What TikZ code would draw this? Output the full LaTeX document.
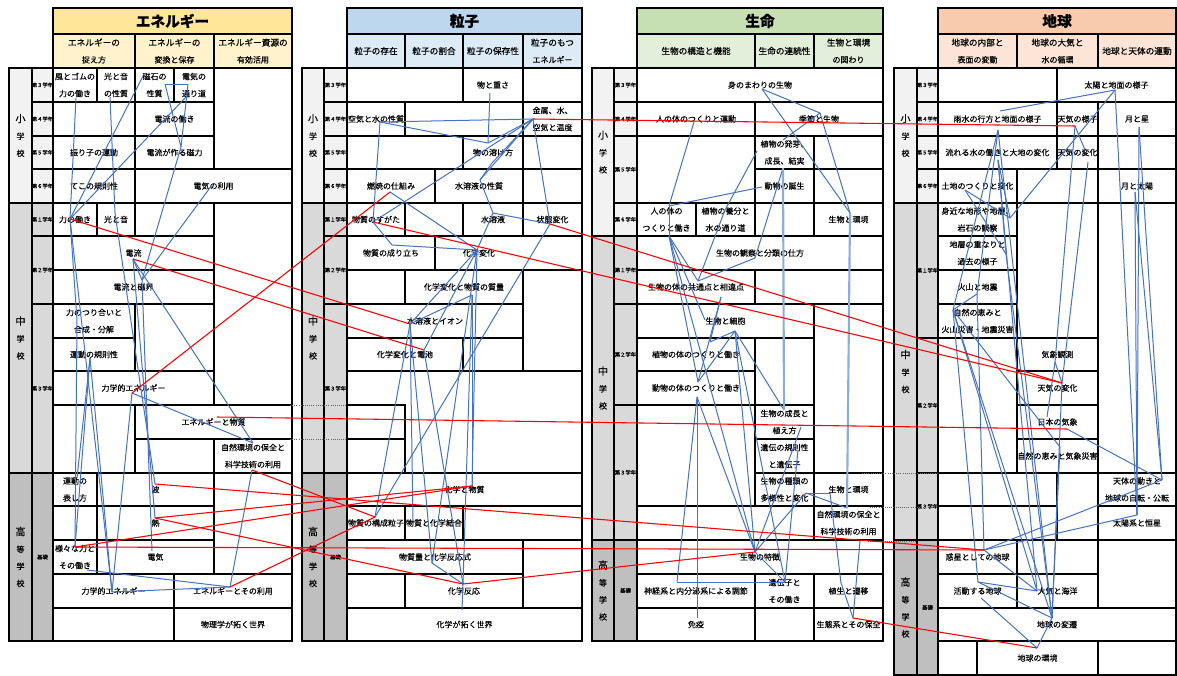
\documentclass[tikz,border=0pt]{standalone}
\usepackage{fontspec}
\setmainfont{Noto Sans CJK JP}[FakeBold=0.35]
\usetikzlibrary{calc}
\definecolor{linkblue}{HTML}{4472C4}
\definecolor{enTitle}{HTML}{FFE699}
\definecolor{enSub}{HTML}{FFF2CC}
\definecolor{ryTitle}{HTML}{BDD7EE}
\definecolor{rySub}{HTML}{DDEBF7}
\definecolor{seTitle}{HTML}{C6E0B4}
\definecolor{seSub}{HTML}{E2EFDA}
\definecolor{chTitle}{HTML}{F8CBAD}
\definecolor{chSub}{HTML}{FCE4D6}
\definecolor{elemgrey}{HTML}{F2F2F2}
\definecolor{midgrey}{HTML}{D9D9D9}
\definecolor{highgrey}{HTML}{BFBFBF}
\tikzset{
  gridline/.style={draw=black, line width=0.9pt},
  celltext/.style={font=\fontsize{6}{12.75}\selectfont, align=center, inner sep=0pt},
  bl/.style={draw=linkblue, line width=0.75pt},
  blw/.style={draw=linkblue!60, line width=1.6pt},
  rd/.style={draw=red, line width=0.8pt},
  dotline/.style={draw=black!60, densely dotted, line width=0.6pt},
}
\newcommand{\tcell}[7][]{%
  \draw[gridline,#1] (#2,#3) rectangle (#4,#5);
  \node[celltext] (#6) at ({(#2+#4)/2},{(#3+#5)/2}) {#7};}
\newcommand{\ecell}[4]{\draw[gridline] (#1,#2) rectangle (#3,#4);}
\newcommand{\ttlfont}{\fontsize{11}{12}\selectfont\bfseries}
\newcommand{\subfont}{\fontsize{6.5}{12.75}\selectfont}
\newcommand{\schfont}{\fontsize{7.5}{12.75}\selectfont}
\newcommand{\grdfont}{\fontsize{4}{5}\selectfont}

\begin{document}
\begin{tikzpicture}[x=0.75pt,y=-0.75pt]
\useasboundingbox (0,0) rectangle (1177,675);

% ---- エネルギー
\tcell[fill=enTitle]{53}{8}{292}{34}{enT}{\ttlfont エネルギー}
\tcell[fill=enSub]{53}{34}{135}{68}{enS1}{\subfont エネルギーの\\捉え方}
\tcell[fill=enSub]{135}{34}{214}{68}{enS2}{\subfont エネルギーの\\変換と保存}
\tcell[fill=enSub]{214}{34}{292}{68}{enS3}{\subfont エネルギー資源の\\有効活用}
\tcell[fill=elemgrey]{9}{68}{32}{203}{enE}{\schfont 小\\学\\校}
\tcell[fill=midgrey]{9}{203}{32}{473}{enM}{\schfont 中\\学\\校}
\tcell[fill=highgrey]{9}{473}{32}{641}{enH}{\schfont 高\\等\\学\\校}
\foreach \ya/\yb/\g [count=\i] in {68/102/３,102/136/４,136/169/５,169/203/６}
  {\tcell[fill=elemgrey]{32}{\ya}{53}{\yb}{enGe\i}{\grdfont 第\g 学年}}
\foreach \ya/\yb/\g [count=\i] in {203/236/１,236/304/２,304/473/３}
  {\tcell[fill=midgrey]{32}{\ya}{53}{\yb}{enGm\i}{\grdfont 第\g 学年}}
\tcell[fill=highgrey]{32}{473}{53}{641}{enGh}{\grdfont 基礎}

\tcell{53}{68}{97}{102}{kaze}{風とゴムの\\力の働き}
\tcell{97}{68}{135}{102}{oto}{光と音\\の性質}
\tcell{135}{68}{174}{102}{jishaku}{磁石の\\性質}
\tcell{174}{68}{214}{102}{michi}{電気の\\通り道}
\ecell{214}{68}{292}{169}
\ecell{53}{102}{135}{136}
\tcell{135}{102}{214}{136}{denryu}{電流の働き}
\tcell{53}{136}{135}{169}{furiko}{振り子の運動}
\tcell{135}{136}{214}{169}{jiryoku}{電流が作る磁力}
\tcell{53}{169}{135}{203}{teko}{てこの規則性}
\tcell{135}{169}{292}{203}{riyo}{電気の利用}
\tcell{53}{203}{97}{236}{chikara}{力の働き}
\tcell{97}{203}{135}{236}{oto2}{光と音}
\ecell{135}{203}{214}{236}
\ecell{214}{203}{292}{405}
\tcell{53}{236}{214}{270}{denryu2}{電流}
\tcell{53}{270}{214}{304}{jikai}{電流と磁界}
\tcell{53}{304}{135}{338}{tsuri}{力のつり合いと\\合成・分解}
\ecell{135}{304}{214}{371}
\tcell{53}{338}{135}{371}{undo}{運動の規則性}
\tcell{53}{371}{214}{405}{rikigaku}{力学的エネルギー}
\ecell{53}{405}{135}{473}
\tcell{135}{405}{292}{439}{ebusshitsu}{エネルギーと物質}
\ecell{135}{439}{214}{473}
\tcell{214}{439}{292}{473}{hozen}{自然環境の保全と\\科学技術の利用}
\tcell{53}{473}{97}{506}{hyoji}{運動の\\表し方}
\tcell{97}{473}{214}{506}{nami}{波}
\ecell{214}{473}{292}{574}
\ecell{53}{506}{97}{540}
\tcell{97}{506}{214}{540}{netsu}{熱}
\tcell{53}{540}{97}{574}{samazama}{様々な力と\\その働き}
\tcell{97}{540}{214}{574}{denki}{電気}
\tcell{53}{574}{174}{608}{rikigaku2}{力学的エネルギー}
\tcell{174}{574}{292}{608}{eriyo}{エネルギーとその利用}
\ecell{53}{608}{174}{641}
\tcell{174}{608}{292}{641}{butsuri}{物理学が拓く世界}

% ---- 粒子
\tcell[fill=ryTitle]{347}{8}{582}{34}{ryT}{\ttlfont 粒子}
\tcell[fill=rySub]{347}{34}{405}{68}{ryS1}{\subfont 粒子の存在}
\tcell[fill=rySub]{405}{34}{463}{68}{ryS2}{\subfont 粒子の割合}
\tcell[fill=rySub]{463}{34}{523}{68}{ryS3}{\subfont 粒子の保存性}
\tcell[fill=rySub]{523}{34}{582}{68}{ryS4}{\subfont 粒子のもつ\\エネルギー}
\tcell[fill=elemgrey]{302}{68}{324}{203}{ryE}{\schfont 小\\学\\校}
\tcell[fill=midgrey]{302}{203}{324}{473}{ryM}{\schfont 中\\学\\校}
\tcell[fill=highgrey]{302}{473}{324}{641}{ryH}{\schfont 高\\等\\学\\校}
\foreach \ya/\yb/\g [count=\i] in {68/102/３,102/136/４,136/169/５,169/203/６}
  {\tcell[fill=elemgrey]{324}{\ya}{347}{\yb}{ryGe\i}{\grdfont 第\g 学年}}
\foreach \ya/\yb/\g [count=\i] in {203/236/１,236/304/２,304/473/３}
  {\tcell[fill=midgrey]{324}{\ya}{347}{\yb}{ryGm\i}{\grdfont 第\g 学年}}
\tcell[fill=highgrey]{324}{473}{347}{641}{ryGh}{\grdfont 基礎}

\ecell{347}{68}{463}{102}
\tcell{463}{68}{523}{102}{omosa}{物と重さ}
\ecell{523}{68}{582}{102}
\tcell{347}{102}{405}{136}{kuki}{空気と水の性質}
\ecell{405}{102}{523}{136}
\tcell{523}{102}{582}{136}{kinzoku}{金属、水、\\空気と温度}
\ecell{347}{136}{463}{169}
\tcell{463}{136}{523}{169}{toke}{物の溶け方}
\ecell{523}{136}{582}{169}
\tcell{347}{169}{435}{203}{nensho}{燃焼の仕組み}
\tcell{435}{169}{523}{203}{seishitsu}{水溶液の性質}
\ecell{523}{169}{582}{203}
\tcell{347}{203}{405}{236}{sugata}{物質のすがた}
\ecell{405}{203}{463}{236}
\tcell{463}{203}{523}{236}{suiyoeki}{水溶液}
\tcell{523}{203}{582}{236}{jotai}{状態変化}
\tcell{347}{236}{435}{270}{naritachi}{物質の成り立ち}
\ecell{435}{236}{582}{270}
\node[celltext] (henka) at (479,253) {化学変化};
\ecell{347}{270}{405}{304}
\tcell{405}{270}{523}{304}{shitsuryo}{化学変化と物質の質量}
\ecell{523}{270}{582}{371}
\tcell{347}{304}{523}{338}{ion}{水溶液とイオン}
\tcell{347}{338}{463}{371}{denchi}{化学変化と電池}
\ecell{463}{338}{523}{371}
\ecell{347}{371}{582}{473}
\ecell{347}{405}{405}{439}
\ecell{347}{439}{405}{473}
\tcell{347}{473}{582}{506}{kbusshitsu}{化学と物質}
\tcell{347}{506}{405}{540}{kosei}{物質の構成粒子}
\tcell{405}{506}{463}{540}{ketsugo}{物質と化学結合}
\ecell{463}{506}{582}{540}
\tcell{347}{540}{523}{574}{ryo}{物質量と化学反応式}
\ecell{523}{540}{582}{608}
\ecell{347}{574}{405}{608}
\tcell{405}{574}{523}{608}{hanno}{化学反応}
\tcell{347}{608}{582}{641}{hiraku}{化学が拓く世界}

% ---- 生命
\tcell[fill=seTitle]{637}{8}{883}{34}{seT}{\ttlfont 生命}
\tcell[fill=seSub]{637}{34}{755}{68}{seS1}{\subfont 生物の構造と機能}
\tcell[fill=seSub]{755}{34}{814}{68}{seS2}{\subfont 生命の連続性}
\tcell[fill=seSub]{814}{34}{883}{68}{seS3}{\subfont 生物と環境\\の関わり}
\tcell[fill=elemgrey]{592}{68}{614}{236}{seE}{\schfont 小\\学\\校}
\tcell[fill=midgrey]{592}{236}{614}{540}{seM}{\schfont 中\\学\\校}
\tcell[fill=highgrey]{592}{540}{614}{641}{seH}{\schfont 高\\等\\学\\校}
\foreach \ya/\yb/\g [count=\i] in {68/102/３,102/136/４,136/203/５,203/236/６}
  {\tcell[fill=elemgrey]{614}{\ya}{637}{\yb}{seGe\i}{\grdfont 第\g 学年}}
\foreach \ya/\yb/\g [count=\i] in {236/304/１,304/405/２,405/540/３}
  {\tcell[fill=midgrey]{614}{\ya}{637}{\yb}{seGm\i}{\grdfont 第\g 学年}}
\tcell[fill=highgrey]{614}{540}{637}{641}{seGh}{\grdfont 基礎}

\tcell{637}{68}{883}{102}{mimawari}{身のまわりの生物}
\tcell{637}{102}{755}{136}{hitoundo}{人の体のつくりと運動}
\tcell{755}{102}{883}{136}{kisetsu}{季節と生物}
\ecell{637}{136}{755}{203}
\tcell{755}{136}{814}{169}{hatsuga}{植物の発芽、\\成長、結実}
\ecell{814}{136}{883}{169}
\tcell{755}{169}{814}{203}{tanjo}{動物の誕生}
\ecell{814}{169}{883}{203}
\tcell{637}{203}{696}{236}{hito}{人の体の\\つくりと働き}
\tcell{696}{203}{755}{236}{yobun}{植物の養分と\\水の通り道}
\ecell{755}{203}{814}{236}
\tcell{814}{203}{883}{236}{kankyo}{生物と環境}
\tcell{637}{236}{883}{270}{bunrui}{生物の観察と分類の仕方}
\tcell{637}{270}{755}{304}{kyotsu}{生物の体の共通点と相違点}
\ecell{755}{270}{883}{304}
\tcell{637}{304}{814}{338}{saibo}{生物と細胞}
\ecell{814}{304}{883}{473}
\tcell{637}{338}{755}{371}{shokubutsu}{植物の体のつくりと働き}
\ecell{755}{338}{814}{405}
\tcell{637}{371}{755}{405}{dobutsu}{動物の体のつくりと働き}
\ecell{637}{405}{755}{506}
\tcell{755}{405}{814}{439}{seicho}{生物の成長と\\植え方}
\tcell{755}{439}{814}{473}{iden}{遺伝の規則性\\と遺伝子}
\tcell{755}{473}{814}{506}{tayo}{生物の種類の\\多様性と変化}
\tcell{814}{473}{883}{506}{kankyo2}{生物と環境}
\ecell{637}{506}{814}{540}
\tcell{814}{506}{883}{540}{hozen2}{自然環境の保全と\\科学技術の利用}
\tcell{637}{540}{883}{574}{tokucho}{生物の特徴}
\tcell{637}{574}{755}{608}{shinkei}{神経系と内分泌系による調節}
\tcell{755}{574}{814}{608}{idenshi}{遺伝子と\\その働き}
\tcell{814}{574}{883}{608}{shokusei}{植生と遷移}
\tcell{637}{608}{755}{641}{meneki}{免疫}
\ecell{755}{608}{814}{641}
\tcell{814}{608}{883}{641}{seitai}{生態系とその保全}

% ---- 地球
\tcell[fill=chTitle]{938}{8}{1176}{34}{chT}{\ttlfont 地球}
\tcell[fill=chSub]{938}{34}{1017}{68}{chS1}{\subfont 地球の内部と\\表面の変動}
\tcell[fill=chSub]{1017}{34}{1098}{68}{chS2}{\subfont 地球の大気と\\水の循環}
\tcell[fill=chSub]{1098}{34}{1176}{68}{chS3}{\subfont 地球と天体の運動}
\tcell[fill=elemgrey]{894}{68}{917}{203}{chE}{\schfont 小\\学\\校}
\tcell[fill=midgrey]{894}{203}{917}{540}{chM}{\schfont 中\\学\\校}
\tcell[fill=highgrey]{894}{540}{917}{675}{chH}{\schfont 高\\等\\学\\校}
\foreach \ya/\yb/\g [count=\i] in {68/102/３,102/136/４,136/169/５,169/203/６}
  {\tcell[fill=elemgrey]{917}{\ya}{938}{\yb}{chGe\i}{\grdfont 第\g 学年}}
\foreach \ya/\yb/\g [count=\i] in {203/338/１,338/473/２,473/540/３}
  {\tcell[fill=midgrey]{917}{\ya}{938}{\yb}{chGm\i}{\grdfont 第\g 学年}}
\tcell[fill=highgrey]{917}{540}{938}{675}{chGh}{\grdfont 基礎}

\ecell{938}{68}{1057}{102}
\tcell{1057}{68}{1176}{102}{taiyo}{太陽と地面の様子}
\tcell{938}{102}{1057}{136}{amamizu}{雨水の行方と地面の様子}
\tcell{1057}{102}{1098}{136}{tenkiyo}{天気の様子}
\tcell{1098}{102}{1176}{136}{tsukihoshi}{月と星}
\tcell{938}{136}{1057}{169}{nagare}{流れる水の働きと大地の変化}
\tcell{1057}{136}{1098}{169}{tenkihen}{天気の変化}
\ecell{1098}{136}{1176}{169}
\tcell{938}{169}{1017}{203}{tochi}{土地のつくりと変化}
\ecell{1017}{169}{1098}{203}
\tcell{1098}{169}{1176}{203}{tsukitaiyo}{月と太陽}
\tcell{938}{203}{1017}{236}{mijika}{身近な地形や地層、\\岩石の観察}
\tcell{938}{236}{1017}{270}{chiso}{地層の重なりと\\過去の様子}
\tcell{938}{270}{1017}{304}{kazan}{火山と地震}
\tcell{938}{304}{1017}{338}{megumi}{自然の恵みと\\火山災害・地震災害}
\ecell{1017}{203}{1098}{338}
\ecell{1098}{203}{1176}{473}
\ecell{938}{338}{1017}{473}
\tcell{1017}{338}{1098}{371}{kisho}{気象観測}
\tcell{1017}{371}{1098}{405}{tenki2}{天気の変化}
\tcell{1017}{405}{1098}{439}{nihon}{日本の気象}
\tcell{1017}{439}{1098}{473}{megumi2}{自然の恵みと気象災害}
\ecell{938}{473}{1057}{506}
\ecell{938}{506}{1057}{540}
\ecell{1057}{473}{1098}{540}
\tcell{1098}{473}{1176}{506}{tentai}{天体の動きと\\地球の自転・公転}
\tcell{1098}{506}{1176}{540}{taiyokei}{太陽系と恒星}
\tcell{938}{540}{1017}{574}{wakusei}{惑星としての地球}
\ecell{1017}{540}{1098}{574}
\ecell{1098}{540}{1176}{608}
\tcell{938}{574}{1017}{608}{katsudo}{活動する地球}
\tcell{1017}{574}{1098}{608}{taiki}{大気と海洋}
\tcell{938}{608}{1176}{641}{hensen}{地球の変遷}
\ecell{938}{641}{977}{675}
\tcell{977}{641}{1098}{675}{kankyo4}{地球の環境}
\ecell{1098}{641}{1176}{675}

% dotted joins between the tables
\draw[dotline] (290,405) -- (347,405);
\draw[dotline] (290,439) -- (347,439);
\draw[dotline] (862,473) -- (938,473);
\draw[dotline] (870,507) -- (938,507);
\draw[dotline] (868,541) -- (917,541);

% link points
\coordinate (cKaze) at (76,98);
\coordinate (cOto) at (110,97);
\coordinate (cJishaku) at (143,76);
\coordinate (cJishakuR) at (165,84);
\coordinate (cMichi) at (188,84);
\coordinate (cMichiB) at (186,97);
\coordinate (cJiryoku) at (181,147);
\coordinate (cRiyo) at (212,185);
\coordinate (cChikara) at (70,219);
\coordinate (cOto2) at (115,213);
\coordinate (cDenryu2) at (133,259);
\coordinate (cJikai) at (142,280);
\coordinate (cTsuri) at (77,320);
\coordinate (cUndo) at (90,358);
\coordinate (cRikigaku) at (132,393);
\coordinate (cEbusshitsu) at (217,417);
\coordinate (cHozen) at (253,443);
\coordinate (cKagaku) at (252,470);
\coordinate (cHyoji) at (77,478);
\coordinate (cNami) at (155,484);
\coordinate (cNetsu) at (155,518);
\coordinate (cSamazama) at (75,547);
\coordinate (cSono) at (87,570);
\coordinate (cDenki) at (152,551);
\coordinate (cRikigaku2) at (112,592);
\coordinate (cEriyo) at (230,587);

\coordinate (cOmosa) at (490,93);
\coordinate (cTokeP) at (488,143);
\coordinate (cKuki) at (380,122);
\coordinate (cKinzoku) at (533,119);
\coordinate (cToke) at (492,163);
\coordinate (cSeishitsu) at (480,180);
\coordinate (cNensho) at (390,192);
\coordinate (cSugata) at (373,222);
\coordinate (cSuiyoeki) at (493,213);
\coordinate (cJotai) at (550,224);
\coordinate (cNaritachi) at (392,245);
\coordinate (cHenka) at (477,250);
\coordinate (cShitsuryo) at (472,295);
\coordinate (cIon) at (410,324);
\coordinate (cDenchi) at (424,350);
\coordinate (cKbusshitsu) at (472,486);
\coordinate (cKosei) at (375,517);
\coordinate (cKetsugo) at (413,520);
\coordinate (cRyo) at (432,563);
\coordinate (cHanno) at (463,584);
\coordinate (cHiraku) at (462,610);

\coordinate (cMimawari) at (762,89);
\coordinate (cKisetsu) at (820,113);
\coordinate (cHitoundo) at (694,122);
\coordinate (cHatsuga) at (783,140);
\coordinate (cHatsugaL) at (757,151);
\coordinate (cSeicho) at (783,168);
\coordinate (cTanjo) at (762,187);
\coordinate (cHito) at (669,206);
\coordinate (cHitoB) at (669,236);
\coordinate (cYobun) at (725,210);
\coordinate (cKankyo) at (850,213);
\coordinate (cBunrui) at (755,258);
\coordinate (cBunruiL) at (698,281);
\coordinate (cKyotsu) at (721,297);
\coordinate (cSaiboL) at (705,320);
\coordinate (cSaibo) at (735,331);
\coordinate (cShokubutsu) at (710,342);
\coordinate (cDobutsuL) at (698,382);
\coordinate (cDobutsu) at (697,397);
\coordinate (cSeicho2) at (784,410);
\coordinate (cUe) at (801,427);
\coordinate (cIden) at (798,450);
\coordinate (cTayo) at (806,493);
\coordinate (cKankyo2) at (830,493);
\coordinate (cHozen2) at (847,508);
\coordinate (cKagaku3) at (860,541);
\coordinate (cTokucho) at (755,552);
\coordinate (cShinkei) at (677,582);
\coordinate (cIdenshi) at (785,582);
\coordinate (cShokusei) at (841,583);
\coordinate (cSeitai) at (853,618);
\coordinate (cMeneki) at (697,618);

\coordinate (cTaiyo) at (1115,90);
\coordinate (cAmamizu) at (1000,111);
\coordinate (cAmamizuL) at (998,130);
\coordinate (cTenkiyo) at (1075,126);
\coordinate (cTenkihen) at (1085,150);
\coordinate (cTenkihenB) at (1088,162);
\coordinate (cNagare) at (998,160);
\coordinate (cTochi) at (965,190);
\coordinate (cTsukihoshi) at (1139,127);
\coordinate (cTsukitaiyo) at (1135,192);
\coordinate (cMijika) at (1010,218);
\coordinate (cChiso) at (1006,254);
\coordinate (cKazan) at (977,294);
\coordinate (cMegumi) at (953,310);
\coordinate (cKisho) at (1055,362);
\coordinate (cTenki2) at (1062,383);
\coordinate (cNihonB) at (1047,417);
\coordinate (cNihon) at (1067,429);
\coordinate (cMegumi2) at (1060,447);
\coordinate (cTentai) at (1162,480);
\coordinate (cTaiyokei) at (1137,515);
\coordinate (cWakusei) at (984,550);
\coordinate (cKatsudo) at (978,582);
\coordinate (cKatsudoB) at (981,598);
\coordinate (cTaiki) at (1037,591);
\coordinate (cHensen) at (1052,618);
\coordinate (cKankyo4) at (1037,648);

% blue links inside each field
\foreach \a/\b in {cChikara/cKaze, cChikara/cJishaku, cChikara/cMichiB, cOto/cOto2,
  cJishakuR/cMichi, cJishakuR/cJiryoku, cMichi/cJiryoku, cJiryoku/cJikai,
  cRiyo/cJikai, cDenryu2/cJikai, cDenryu2/cHozen, cJikai/cDenki, cDenryu2/cNetsu,
  cOto2/cNami, cChikara/cTsuri, cTsuri/cSamazama, cUndo/cHyoji, cUndo/cSamazama,
  cUndo/cRikigaku2, cChikara/cRikigaku2, cRikigaku/cRikigaku2, cRikigaku/cHozen,
  cKagaku/cEriyo, cRikigaku2/cEriyo, cSono/cEriyo}
  \draw[bl] (\a) -- (\b);
\foreach \a/\b in {cOmosa/cTokeP, cKuki/cTokeP, cKuki/cKinzoku, cTokeP/cKinzoku,
  cKinzoku/cToke, cKinzoku/cSeishitsu, cKinzoku/cJotai, cKinzoku/cSugata,
  cKuki/cSugata, cToke/cSeishitsu, cNensho/cHenka, cSeishitsu/cSuiyoeki,
  cSuiyoeki/cJotai, cSugata/cNaritachi, cNaritachi/cHenka, cHenka/cIon,
  cHenka/cDenchi, cShitsuryo/cIon, cSuiyoeki/cHenka, cJotai/cKosei, cIon/cKosei,
  cIon/cKetsugo, cIon/cRyo, cDenchi/cHanno, cShitsuryo/cKbusshitsu,
  cHenka/cKbusshitsu, cShitsuryo/cHanno, cHenka/cRyo, cRyo/cHanno, cHanno/cHiraku}
  \draw[bl] (\a) -- (\b);
\foreach \a/\b in {cMimawari/cKisetsu, cMimawari/cKankyo, cKisetsu/cHatsuga,
  cKisetsu/cKankyo, cHitoundo/cHito, cTanjo/cHito, cHito/cHitoB, cHatsugaL/cYobun,
  cSeicho/cBunrui, cHitoB/cBunruiL, cBunruiL/cBunrui, cHitoB/cSaiboL,
  cHitoB/cDobutsuL, cHitoB/cTokucho, cYobun/cBunruiL, cKyotsu/cShokubutsu,
  cKyotsu/cDobutsuL, cSaibo/cShokubutsu, cSaibo/cDobutsuL, cSaibo/cSeicho2,
  cSaibo/cTokucho, cSaibo/cIdenshi, cDobutsu/cShinkei, cDobutsu/cMeneki,
  cDobutsu/cTokucho, cUe/cTokucho, cIden/cIdenshi, cTayo/cKankyo2, cTayo/cHozen2,
  cKankyo2/cShokusei, cShokusei/cSeitai, cKagaku3/cSeitai, cTokucho/cIdenshi,
  cShinkei/cIdenshi, cTayo/cTokucho}
  \draw[bl] (\a) -- (\b);
\draw[blw] (cSeicho) -- (cSeicho2);
\draw[blw] (cKankyo) -- (cHozen2);
\foreach \a/\b in {cTaiyo/cAmamizu, cTaiyo/cMijika, cTaiyo/cTaiyokei,
  cTenkiyo/cTenkihen, cTenkiyo/cKisho, cTenkihenB/cTenki2, cTsukihoshi/cTentai,
  cTsukihoshi/cTaiyokei, cTsukitaiyo/cTentai, cTsukitaiyo/cTaiyokei,
  cAmamizuL/cMegumi, cAmamizuL/cKazan, cAmamizuL/cHensen, cNagare/cMijika,
  cNagare/cChiso, cNagare/cTaiki, cTochi/cMijika, cTochi/cChiso, cChiso/cHensen,
  cKazan/cMegumi, cKazan/cWakusei, cMegumi/cMegumi2, cMegumi/cTaiki,
  cMegumi/cHensen, cMegumi/cKatsudo, cKisho/cTenki2, cKisho/cNihonB,
  cTenki2/cHensen, cNihon/cTentai, cMegumi2/cHensen, cWakusei/cTentai,
  cWakusei/cTaiyokei, cWakusei/cTaiki, cKatsudo/cTaiki, cKatsudo/cHensen,
  cKatsudoB/cKankyo4, cKankyo4/cHensen}
  \draw[bl] (\a) -- (\b);

% red links across fields
\foreach \a/\b in {cChikara/cIon, cDenryu2/cDenchi, cRikigaku/cNensho,
  cSugata/cTenki2, cJotai/cTenki2, cKinzoku/cTenkiyo, cEbusshitsu/cNihon,
  cKagaku/cKosei, cNami/cWakusei, cNetsu/cKbusshitsu, cSamazama/cKbusshitsu,
  cSamazama/cWakusei, cEriyo/cKosei, cNetsu/cHanno, cHanno/cTokucho,
  cSeitai/cKankyo4}
  \draw[rd] (\a) -- (\b);
\end{tikzpicture}
\end{document}
